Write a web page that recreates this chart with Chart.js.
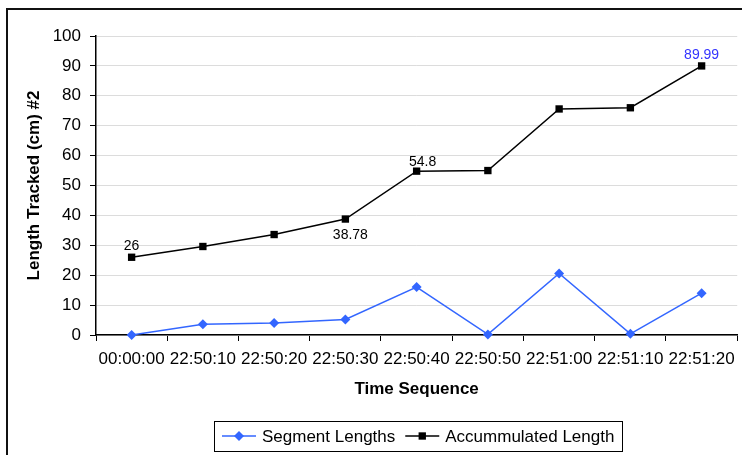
<!DOCTYPE html>
<html>
<head>
<meta charset="utf-8">
<script src="https://cdn.jsdelivr.net/npm/chart.js@4.4.1/dist/chart.umd.min.js"></script>
<style>
    html, body { margin: 0; padding: 0; background: #fff; overflow: hidden; }
    #frame { position: absolute; left: 6px; top: 8px; width: 800px; height: 500px; border: 2px solid #111; }
    #wrap { position: absolute; left: 0; top: 0; }
</style>
</head>
<body>
<div id="frame"></div>
<div id="wrap"><canvas id="length-chart" width="743" height="455"></canvas></div>
<script>
const timeLabels = [
    '00:00:00', '22:50:10', '22:50:20', '22:50:30', '22:50:40',
    '22:50:50', '22:51:00', '22:51:10', '22:51:20',
];
const segmentLengths = [0, 3.6, 4.0, 5.18, 16.02, 0.2, 20.6, 0.4, 13.99];
const accumulatedLength = [26, 29.6, 33.6, 38.78, 54.8, 55.0, 75.6, 76.0, 89.99];
// points of the accumulated series that carry a value label
const labelledPoints = [0, 3, 4, 8];

const FONT = "'Liberation Sans', Arial, sans-serif";
const BLUE = '#3366ff';

Chart.defaults.font.family = FONT;
Chart.defaults.color = '#000';

// value labels above/below chosen points
const valueLabels = {
    id: 'valueLabels',
    afterDatasetsDraw(chart, args, opts) {
        const ctx = chart.ctx;
        const ds = chart.data.datasets[opts.datasetIndex];
        const meta = chart.getDatasetMeta(opts.datasetIndex);
        ctx.save();
        ctx.font = '14px ' + FONT;
        ctx.textAlign = 'center';
        ctx.textBaseline = 'middle';
        opts.indices.forEach((i) => {
            const pt = meta.data[i];
            const nudge = opts.nudge[i] || [0, -11];
            ctx.fillStyle = opts.highlight.includes(i) ? opts.highlightColor : '#000';
            ctx.fillText(String(ds.data[i]), pt.x + nudge[0], pt.y + nudge[1]);
        });
        ctx.restore();
    },
};

// boxed legend with line + marker samples, like the spreadsheet one
const boxedLegend = {
    id: 'boxedLegend',
    afterDraw(chart, args, opts) {
        const ctx = chart.ctx;
        ctx.save();
        ctx.font = '17px ' + FONT;
        const sample = 34, gapText = 6, gapItem = 10, pad = 8;
        const items = chart.data.datasets.map((ds, i) => ({
            ds,
            meta: chart.getDatasetMeta(i),
            w: ctx.measureText(ds.label).width,
        }));
        const total = pad * 2 + gapItem * (items.length - 1) +
            items.reduce((s, it) => s + sample + gapText + it.w, 0);
        let x = Math.round(opts.centerX - total / 2);
        const cy = opts.top + opts.height / 2;

        ctx.strokeStyle = '#000';
        ctx.lineWidth = 1;
        ctx.strokeRect(x + 0.5, opts.top + 0.5, Math.round(total), opts.height);

        x += pad;
        items.forEach((it) => {
            const ds = it.ds;
            ctx.strokeStyle = ds.borderColor;
            ctx.fillStyle = ds.backgroundColor;
            ctx.lineWidth = ds.borderWidth;
            ctx.beginPath();
            ctx.moveTo(x, cy);
            ctx.lineTo(x + sample, cy);
            ctx.stroke();
            Chart.helpers.drawPoint(ctx, {
                pointStyle: ds.pointStyle,
                radius: ds.pointRadius,
                rotation: 0,
                borderWidth: 0,
            }, x + sample / 2, cy);
            x += sample + gapText;
            ctx.fillStyle = '#000';
            ctx.textAlign = 'left';
            ctx.textBaseline = 'middle';
            ctx.fillText(ds.label, x, cy + 1);
            x += it.w + gapItem;
        });
        ctx.restore();
    },
};

const ctx = document.getElementById('length-chart').getContext('2d');

new Chart(ctx, {
    type: 'line',
    data: {
        labels: timeLabels,
        datasets: [
            {
                label: 'Segment Lengths',
                data: segmentLengths,
                borderColor: BLUE,
                backgroundColor: BLUE,
                borderWidth: 1.5,
                pointStyle: 'rectRot',
                pointRadius: 5,
                pointBorderWidth: 0,
                tension: 0,
                clip: false,
            },
            {
                label: 'Accummulated Length',
                data: accumulatedLength,
                borderColor: '#000',
                backgroundColor: '#000',
                borderWidth: 1.5,
                pointStyle: 'rect',
                pointRadius: 5.2,
                pointBorderWidth: 0,
                tension: 0,
                clip: false,
            },
        ],
    },
    options: {
        responsive: false,
        animation: false,
        devicePixelRatio: 1,
        layout: { padding: { left: 16, top: 36, right: 0, bottom: 45 } },
        scales: {
            x: {
                offset: true,
                grid: {
                    offset: true,
                    drawOnChartArea: false,
                    tickLength: 6,
                    tickColor: '#000',
                },
                border: { color: '#000', width: 1.5 },
                ticks: {
                    padding: 8,
                    autoSkip: false,
                    maxRotation: 0,
                    font: { size: 17 },
                },
                title: {
                    display: true,
                    text: 'Time Sequence',
                    font: { size: 17, weight: 'bold' },
                    padding: { top: 0, bottom: 10 },
                },
                afterFit: (scale) => { scale.height = 75; },
            },
            y: {
                min: 0,
                max: 100,
                grid: {
                    color: '#dcdcdc',
                    tickLength: 6,
                    tickColor: '#000',
                },
                border: { color: '#000', width: 1.5 },
                ticks: {
                    stepSize: 10,
                    padding: 9,
                    font: { size: 17 },
                },
                title: {
                    display: true,
                    text: 'Length Tracked (cm) #2',
                    font: { size: 17, weight: 'bold' },
                    padding: { top: 8, bottom: 0 },
                },
                afterFit: (scale) => { scale.width = 80; },
            },
        },
        plugins: {
            legend: { display: false },
            tooltip: { enabled: false },
            valueLabels: {
                datasetIndex: 1,
                indices: labelledPoints,
                nudge: { 3: [5, 16], 4: [6, -9] },
                highlight: [8],
                highlightColor: '#3333ff',
            },
            boxedLegend: { centerX: 418, top: 421, height: 30 },
        },
    },
    plugins: [valueLabels, boxedLegend],
});
</script>
</body>
</html>
